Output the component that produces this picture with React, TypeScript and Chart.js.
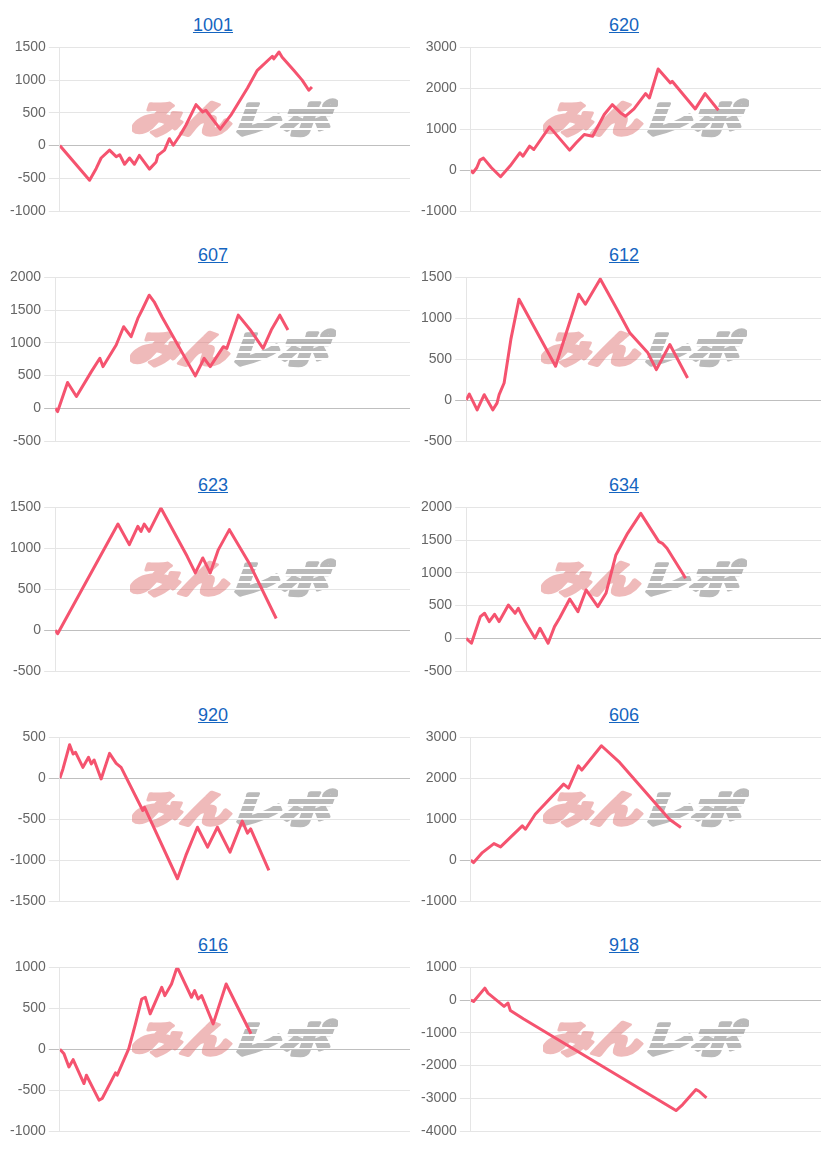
import React, { useEffect, useRef } from "react";
import { Chart, registerables } from "chart.js";

Chart.register(...registerables);

// ---- data ----
const titles = ["1001", "620", "607", "612", "623", "634", "920", "606", "616", "918"];

const x1001 = [0, 8.5, 10.4, 11.8, 14.2, 16.1, 17.1, 18.5, 19.9, 21.3, 22.7, 25.6, 27.5, 28, 29.9, 31.3, 32.4, 34.6, 36, 38.9, 40.8, 41.7, 45.8, 48.8, 53.6, 56.4, 60.7, 61.1, 62.6, 63.5, 66.8, 69.2, 71.1, 72];
const y1001 = [0, -530, -350, -190, -70, -170, -140, -285, -190, -285, -150, -360, -250, -150, -70, 105, 5, 180, 310, 625, 515, 540, 250, 460, 880, 1150, 1365, 1325, 1430, 1350, 1150, 1000, 845, 895];

const x620 = [0, 0.6, 1.7, 2.6, 3.6, 5.9, 8.5, 11.2, 14, 14.9, 16.8, 18, 22.5, 28.2, 30.1, 32.4, 34.8, 38.1, 40.4, 42.8, 44.2, 46.6, 49.9, 51, 53.5, 57, 57.5, 64.1, 66.9, 70.7];
const y620 = [0, -65, 57, 244, 293, 57, -163, 98, 423, 341, 585, 504, 1057, 488, 667, 870, 829, 1358, 1602, 1398, 1317, 1496, 1870, 1764, 2471, 2130, 2171, 1496, 1870, 1463];

const x607 = [0, 0.7, 3.5, 6, 10.2, 12.6, 13.5, 17.2, 19.3, 21.4, 23.3, 24.7, 26.5, 27.9, 30.2, 39.5, 42, 43.7, 47.4, 48.4, 51.6, 54.9, 58.6, 60.9, 63.3, 65.6];
const y607 = [0, -50, 394, 180, 560, 764, 637, 967, 1246, 1094, 1373, 1525, 1728, 1627, 1388, 495, 764, 637, 941, 916, 1423, 1205, 916, 1195, 1423, 1195];

const x612 = [0, 0.9, 3.1, 5.1, 7.5, 8.7, 9.3, 10.7, 12.6, 14.9, 25.2, 31.7, 33.6, 37.8, 42.4, 46.1, 51.2, 53.6, 57.4, 62.4];
const y612 = [0, 74, -119, 66, -119, -37, 66, 209, 742, 1234, 414, 1295, 1172, 1480, 1119, 824, 578, 373, 680, 270];

const x623 = [0, 0.7, 17.7, 20.9, 23.3, 24.2, 25.1, 26.5, 29.8, 37.2, 39.5, 41.6, 43.7, 46, 49.1, 54.9, 62.3];
const y623 = [0, -45, 1297, 1045, 1268, 1207, 1297, 1207, 1492, 902, 699, 882, 699, 984, 1228, 801, 142];

const x634 = [0, 1.5, 4, 5.2, 6.5, 8, 9.3, 11.9, 13.8, 14.7, 16.6, 19.4, 20.8, 23.1, 24.9, 26.3, 29.2, 31.5, 33.8, 37.1, 39.4, 42.2, 45.5, 49.2, 52.5, 54.3, 55.3, 56.6, 61.3, 61.8];
const y634 = [0, -76, 331, 382, 255, 367, 255, 509, 382, 458, 255, 0, 153, -76, 178, 305, 601, 407, 738, 484, 687, 1273, 1604, 1909, 1629, 1477, 1451, 1375, 967, 916];

const x920 = [0, 0.9, 2.8, 3.8, 4.5, 6.6, 8.2, 9, 9.8, 11.8, 14.2, 16.1, 17.5, 23.7, 24.2, 33.6, 36, 39.3, 42.2, 45, 48.6, 52.1, 53.6, 54.5, 59.7];
const y920 = [0, 114, 410, 297, 317, 134, 256, 175, 224, -8, 305, 183, 134, -394, -354, -1228, -943, -598, -841, -598, -902, -524, -671, -618, -1126];

const x606 = [0, 0.8, 3.3, 6.6, 8.5, 14.7, 15.6, 18.4, 26.5, 27.9, 30.7, 31.7, 37.3, 42.5, 56.7, 60];
const y606 = [0, -61, 184, 404, 322, 837, 755, 1122, 1857, 1759, 2306, 2200, 2796, 2388, 1000, 796];

const x616 = [0, 1.2, 2.6, 3.8, 6.9, 7.6, 11.2, 12.1, 15.9, 16.4, 19.7, 21.6, 23.4, 24.4, 25.8, 29.1, 30, 31.9, 33.3, 33.8, 37.6, 38.5, 39.5, 40.5, 43.8, 47.5, 50.8, 54.6];
const y616 = [0, -57, -217, -128, -420, -318, -623, -603, -290, -318, 6, 310, 614, 635, 432, 757, 655, 797, 979, 979, 635, 716, 614, 655, 310, 797, 513, 189];

const x918 = [0, 0.8, 4, 4.9, 9.5, 10.6, 11.3, 15.1, 58.6, 60.5, 64.3, 65.2, 67.3];
const y918 = [0, -41, 366, 213, -193, -91, -315, -579, -3374, -3191, -2734, -2785, -2988];

const xSeries = [x1001, x620, x607, x612, x623, x634, x920, x606, x616, x918];
const ySeries = [y1001, y620, y607, y612, y623, y634, y920, y606, y616, y918];
const yMins = [-1000, -1000, -500, -500, -500, -500, -1500, -1000, -1000, -4000];
const yMaxs = [1500, 3000, 2000, 1500, 1500, 2000, 500, 3000, 1000, 1000];
const ySteps = [500, 1000, 500, 500, 500, 500, 500, 1000, 500, 1000];
const X_MAX = 100;

// ---- style ----
const LINE_COLOR = "#f5536f";
const CELL_W = 411;
const CELL_H = 230;
const CANVAS_TOP = 36;
const CANVAS_H = 190;

let watermarkImg: HTMLCanvasElement | null = null;
function getWatermark(): HTMLCanvasElement {
  if (watermarkImg) return watermarkImg;
  const c = document.createElement("canvas");
  c.width = 206;
  c.height = 40;
  const ctx = c.getContext("2d")!;
  ctx.textBaseline = "middle";
  ctx.font = '900 46px "Noto Sans CJK JP", sans-serif';
  ctx.lineJoin = "round";
  // pink "みん"
  ctx.setTransform(1.08, 0, -0.3, 0.82, 8, 0);
  ctx.fillStyle = "rgb(222,110,110)";
  ctx.strokeStyle = "rgb(222,110,110)";
  ctx.lineWidth = 4;
  ctx.fillText("みん", 2, 25);
  ctx.strokeText("みん", 2, 25);
  // gray "レポ"
  ctx.fillStyle = "rgb(110,110,110)";
  ctx.strokeStyle = "rgb(110,110,110)";
  ctx.fillText("レポ", 94, 25);
  ctx.strokeText("レポ", 94, 25);
  ctx.setTransform(1, 0, 0, 1, 0, 0);
  // speed stripes over the gray part
  ctx.globalCompositeOperation = "destination-out";
  ctx.fillStyle = "#000";
  [9, 16, 23, 30].forEach((yy) => ctx.fillRect(100, yy, 106, 2));
  ctx.globalCompositeOperation = "source-over";
  watermarkImg = c;
  return c;
}

const watermarkPlugin = {
  id: "watermark",
  beforeDatasetsDraw(chart: any) {
    const { left, right, top, bottom } = chart.chartArea;
    const img = getWatermark();
    const cx = (left + right) / 2;
    const cy = (top + bottom) / 2 - 11;
    const ctx = chart.ctx;
    ctx.save();
    ctx.globalAlpha = 0.47;
    ctx.drawImage(img, Math.round(cx - img.width / 2), Math.round(cy - img.height / 2));
    ctx.restore();
  },
};

function MiniChart({ idx }: { idx: number }) {
  const ref = useRef<HTMLCanvasElement>(null);
  useEffect(() => {
    const xs = xSeries[idx];
    const ys = ySeries[idx];
    const chart = new Chart(ref.current!, {
      type: "line",
      data: {
        datasets: [
          {
            data: xs.map((x, i) => ({ x, y: ys[i] })),
            borderColor: LINE_COLOR,
            backgroundColor: LINE_COLOR,
            borderWidth: 3,
            pointRadius: 0,
            tension: 0,
            fill: false,
            borderJoinStyle: "round",
          },
        ],
      },
      options: {
        animation: false,
        responsive: false,
        maintainAspectRatio: false,
        devicePixelRatio: 1,
        layout: { padding: { top: 11, bottom: 15, left: 7, right: 1 } },
        plugins: { legend: { display: false }, tooltip: { enabled: false }, title: { display: false } },
        scales: {
          x: { type: "linear", min: 0, max: X_MAX, display: false },
          y: {
            min: yMins[idx],
            max: yMaxs[idx],
            ticks: {
              stepSize: ySteps[idx],
              color: "#666",
              padding: 3,
              font: { family: '"Liberation Sans", Arial, sans-serif', size: 14 },
              callback: (v: any) => String(v),
            },
            grid: {
              color: (ctx: any) => (ctx.tick && ctx.tick.value === 0 ? "rgba(0,0,0,0.25)" : "rgba(0,0,0,0.1)"),
              tickLength: 11,
            },
            border: { color: "rgba(0,0,0,0.1)" },
          },
        },
      },
      plugins: [watermarkPlugin],
    } as any);
    return () => chart.destroy();
  }, [idx]);
  return (
    <canvas
      ref={ref}
      width={CELL_W}
      height={CANVAS_H}
      style={{ position: "absolute", left: 0, top: CANVAS_TOP, width: CELL_W, height: CANVAS_H }}
    />
  );
}

export default function App() {
  return (
    <div style={{ position: "absolute", left: 0, top: 0, width: 825, height: 1150, background: "#fff" }}>
      {titles.map((t, i) => {
        const col = i % 2;
        const row = Math.floor(i / 2);
        return (
          <div
            key={t}
            style={{
              position: "absolute",
              left: col * CELL_W,
              top: row * CELL_H,
              width: CELL_W,
              height: CELL_H,
            }}
          >
            <div
              style={{
                position: "absolute",
                left: 15,
                right: 0,
                top: 13,
                height: 24,
                lineHeight: "24px",
                textAlign: "center",
                fontFamily: '"Liberation Sans", Arial, sans-serif',
                fontSize: 18,
              }}
            >
              <a href="#" style={{ color: "#1565c0", textDecoration: "underline" }}>
                {t}
              </a>
            </div>
            <MiniChart idx={i} />
          </div>
        );
      })}
    </div>
  );
}
